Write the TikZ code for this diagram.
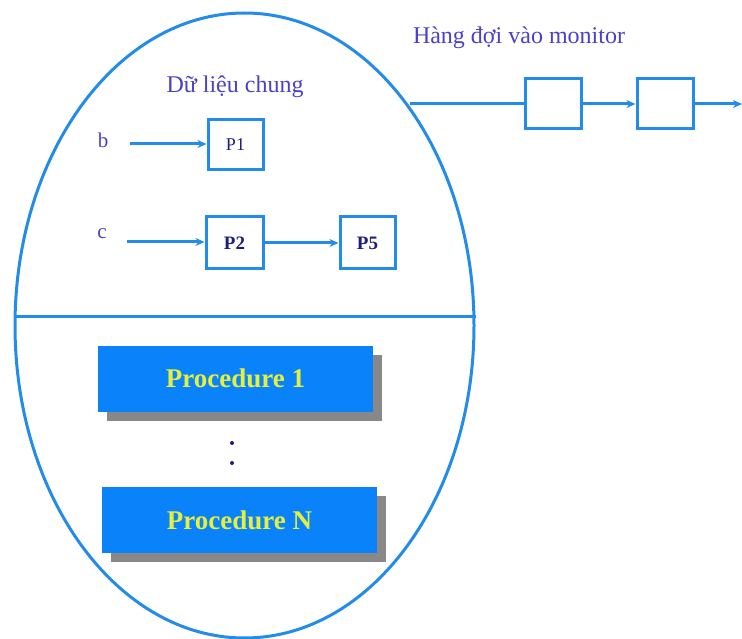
\documentclass[tikz,border=0pt]{standalone}
\usepackage{fontspec}
\setmainfont{Liberation Serif}
\usetikzlibrary{arrows.meta,shapes.geometric,shadows}

\definecolor{lineblue}{RGB}{35,140,235}
\definecolor{procblue}{RGB}{10,130,250}
\definecolor{txtblue}{RGB}{75,65,200}
\definecolor{navy}{RGB}{30,30,125}
\definecolor{procyellow}{RGB}{230,240,60}

\begin{document}
\begin{tikzpicture}[x=1pt, y=-1pt,
  ln/.style={draw=lineblue, line width=3pt},
  arr/.style={ln, -{Stealth[length=9pt,width=8pt]}},
  pbox/.style={ln, fill=white, inner sep=0pt, font=\fontsize{18}{20}\selectfont, text=navy},
  qbox/.style={ln, fill=white, minimum width=56pt, minimum height=50pt},
  proc/.style={fill=procblue, minimum width=275pt, minimum height=66pt, inner sep=0pt,
    text=procyellow, font=\fontsize{27}{30}\selectfont\bfseries,
    drop shadow={shadow xshift=9pt, shadow yshift=-9pt, fill=black!55, opacity=0.85}},
  lbl/.style={text=txtblue, font=\fontsize{24}{28}\selectfont}]
  \useasboundingbox (0,0) rectangle (742,639);

  \node [ellipse, ln, minimum width=459pt, minimum height=625pt, inner sep=0pt] at (244.5,325.5) (mon) {};
  \draw [ln] ([yshift=9.5pt]mon.west) -- ([yshift=9.5pt]mon.east);

  % shared data
  \node [lbl] at (235,87) (shared) {Dữ liệu chung};
  \node [lbl, font=\fontsize{21}{24}\selectfont] at (103,140) (b) {b};
  \node [lbl, font=\fontsize{21}{24}\selectfont] at (102,234) (c) {c};
  \node [pbox, minimum width=55pt, minimum height=50pt] at (235.5,145) (p1) {P1};
  \node [pbox, minimum width=57pt, minimum height=52pt, font=\fontsize{19}{22}\selectfont\bfseries] at (234.5,243) (p2) {P2};
  \node [pbox, minimum width=55pt, minimum height=52pt, font=\fontsize{19}{22}\selectfont\bfseries] at (367.5,243) (p5) {P5};
  \coordinate (bin) at (130,144);
  \coordinate (cin) at (127,242);
  \draw [arr] (bin) -- (bin -| p1.west);
  \draw [arr] (cin) -- (cin -| p2.west);
  \draw [arr] (p2) -- (p5);

  % entry queue
  \node [lbl] at (519,38) (queue) {Hàng đợi vào monitor};
  \node [qbox] at (553.5,104) (q1) {};
  \node [qbox] at (665,104) (q2) {};
  \coordinate (qout) at (742,104);
  \draw [ln] (mon.53 |- q1.west) -- (q1.west);
  \draw [arr] (q1) -- (q2);
  \draw [arr] (q2) -- (qout);

  % procedures
  \node [proc] at (235.5,378.5) (proc1) {Procedure 1};
  \node [proc] at (239.5,520) (procN) {Procedure N};
  \fill [navy] (232,443) circle (2pt);
  \fill [navy] (232,463) circle (2pt);
\end{tikzpicture}
\end{document}
